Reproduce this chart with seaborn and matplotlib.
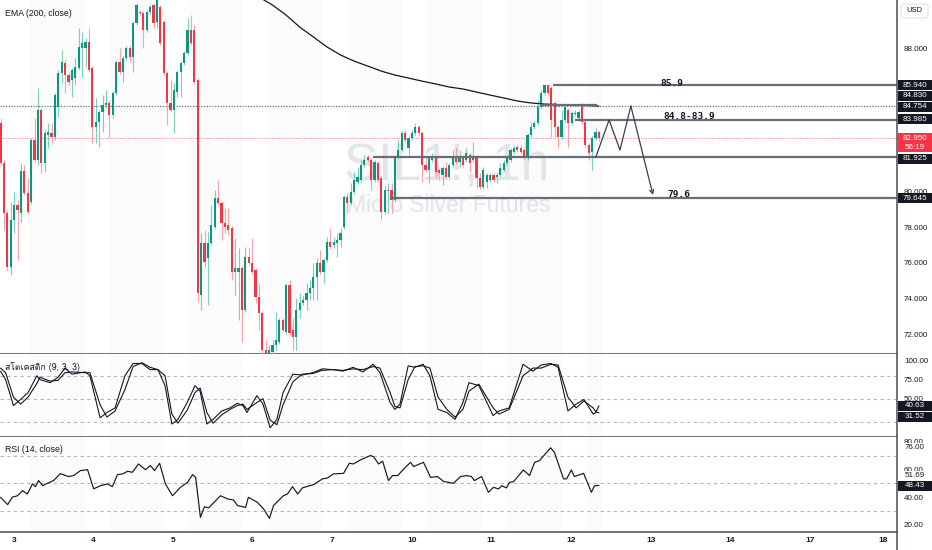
import numpy as np
import matplotlib
matplotlib.use("Agg")
import matplotlib.pyplot as plt
import seaborn as sns
from matplotlib import font_manager as fm
from matplotlib.ft2font import FT2Font
from matplotlib.transforms import blended_transform_factory
from matplotlib.patches import Rectangle, FancyBboxPatch
from matplotlib.lines import Line2D

# ------------------------------------------------------------------ data
candle_open = [83.81,81.57,78.78,75.76,78.39,79.23,78.78,81.13,79.90,79.39,
 82.86,81.74,84.54,81.57,83.14,83.25,83.03,84.70,86.60,87.16,
 86.49,86.21,86.32,86.88,88.00,88.00,88.33,86.88,83.59,83.87,
 84.42,84.81,84.93,84.26,85.48,87.22,86.66,87.44,88.00,87.50,
 89.40,90.01,89.95,89.00,90.01,90.40,89.45,90.29,89.45,86.60,
 84.93,84.54,85.54,86.66,87.16,87.72,89.00,89.00,86.21,74.20,
 77.10,76.27,77.10,78.00,79.62,79.34,78.22,78.11,77.94,75.48,
 75.48,75.71,73.36,76.32,75.99,75.60,74.09,73.19,71.13,70.68,
 71.02,71.41,71.57,72.80,72.13,74.76,72.24,71.85,73.36,73.75,
 73.92,74.31,74.59,75.20,75.99,75.48,76.16,77.16,76.99,77.10,
 77.27,78.00,79.67,79.34,79.95,80.51,80.63,81.46,81.91,81.74,
 80.63,81.57,80.74,78.84,80.01,80.07,79.51,81.91,82.30,83.25,
 82.41,82.97,83.25,83.59,83.25,81.46,81.18,81.74,81.85,81.18,
 80.90,81.29,80.79,81.46,81.91,81.63,81.91,81.74,82.02,81.74,
 81.91,80.74,80.23,80.51,80.63,80.90,80.79,80.90,81.18,81.57,
 81.74,82.19,82.47,82.41,82.30,81.85,83.14,83.59,83.81,84.70,
 85.48,85.93,85.76,84.93,83.59,83.03,83.98,84.54,83.81,84.31,
 84.09,84.81,83.87,82.58,82.19,82.97,83.31]
candle_close = [81.57,78.78,75.76,78.39,79.23,78.95,81.13,79.90,78.84,82.86,
 81.74,84.54,81.57,83.25,83.31,83.03,85.37,86.60,87.22,86.49,
 86.10,86.77,86.94,88.06,88.28,88.33,86.77,83.59,83.87,84.42,
 84.81,84.93,84.26,85.48,87.22,86.66,87.44,88.00,87.50,89.40,
 90.40,89.95,89.00,90.01,90.29,89.40,90.68,88.28,86.60,84.93,
 84.54,85.65,86.66,87.16,87.72,89.00,88.28,86.10,74.31,77.10,
 76.04,77.10,78.11,79.62,79.34,78.22,78.00,77.83,75.48,75.71,
 75.71,73.36,76.32,75.99,75.48,74.09,73.19,71.13,70.68,71.13,
 71.41,71.69,72.80,72.24,74.76,72.08,71.85,73.36,73.75,73.92,
 74.31,74.59,75.20,75.99,75.48,76.16,77.16,76.88,77.16,77.27,
 77.66,79.67,79.34,79.95,80.63,80.79,81.46,81.74,81.74,80.63,
 81.63,80.63,78.84,80.07,80.07,79.51,81.91,82.30,83.25,82.86,
 82.97,83.25,83.59,83.25,81.46,81.18,81.85,81.91,81.07,81.02,
 81.29,80.79,81.46,81.91,81.63,81.91,81.46,82.13,81.57,81.91,
 80.74,80.23,81.18,80.90,80.90,80.63,80.90,81.29,81.57,81.91,
 82.30,82.41,82.30,82.19,81.85,83.14,83.59,83.81,84.70,85.48,
 85.93,85.48,83.98,83.59,83.03,83.98,84.70,83.81,84.37,84.37,
 84.42,83.87,82.58,82.13,82.97,83.31,82.95]
candle_high = [84.09,81.74,78.95,79.39,79.95,79.51,81.57,81.46,80.74,82.97,
 84.09,85.76,84.65,83.42,83.81,83.81,85.48,86.77,87.89,87.33,
 86.66,86.88,87.44,89.12,88.89,88.56,89.12,86.99,85.21,84.54,
 85.37,85.65,85.09,85.60,87.33,88.00,87.55,88.11,88.11,89.51,
 90.51,90.12,90.07,90.12,90.40,90.51,90.96,90.40,89.56,86.71,
 86.21,86.04,86.77,87.27,87.83,89.67,89.84,89.28,86.32,77.66,
 77.83,77.72,79.23,80.07,80.63,79.45,79.06,79.06,78.05,77.38,
 76.82,75.82,76.88,76.82,77.38,75.71,74.87,73.30,71.69,71.41,
 71.69,73.25,72.91,72.91,74.87,75.04,72.91,74.03,74.31,74.20,
 74.87,75.04,75.99,76.27,76.71,76.27,77.44,77.94,77.44,77.66,
 77.94,79.79,79.90,80.46,81.07,81.35,81.74,82.02,82.02,81.85,
 81.74,81.69,80.85,80.34,80.46,80.46,82.02,82.86,83.36,83.42,
 83.08,83.42,83.81,83.70,83.36,82.02,81.96,82.13,81.96,81.29,
 81.41,81.63,81.57,82.30,82.47,82.30,82.02,82.41,82.13,82.75,
 82.02,81.02,81.35,81.02,81.02,81.02,81.07,81.57,81.74,82.02,
 82.41,82.58,82.58,82.58,82.41,83.25,83.87,83.92,85.09,85.65,
 85.94,85.96,85.87,85.04,83.70,84.54,84.93,84.65,84.48,84.54,
 84.54,84.93,83.98,82.69,83.08,83.53,83.42]
candle_low = [81.46,77.83,75.60,75.32,77.66,76.16,78.28,79.79,78.72,79.28,
 81.63,81.46,81.02,81.07,82.41,82.69,82.86,84.15,86.04,85.48,
 85.93,85.26,85.93,86.77,86.38,86.94,86.66,82.69,82.69,82.47,
 83.31,84.65,83.03,84.09,85.37,86.55,86.10,87.33,87.22,86.66,
 89.28,89.84,88.00,88.89,89.90,89.12,89.12,88.17,86.49,83.70,
 84.42,83.25,85.26,85.26,87.05,87.61,88.17,85.99,73.81,73.36,
 75.71,73.64,76.99,77.89,79.23,77.27,77.66,77.55,75.04,74.20,
 72.80,71.57,73.25,75.87,75.37,73.75,72.24,70.57,70.29,70.46,
 70.85,71.13,71.46,72.13,72.02,71.96,71.13,71.13,72.91,73.64,
 73.36,73.92,73.92,73.92,75.37,74.87,76.04,76.77,76.82,76.32,
 76.88,77.89,78.78,79.23,79.84,80.40,80.51,81.35,81.63,80.07,
 80.51,80.51,78.39,78.72,78.78,78.78,79.39,81.80,82.19,82.75,
 82.02,82.86,83.14,83.14,80.51,81.07,80.46,81.63,80.74,80.63,
 80.34,80.68,80.68,81.35,81.52,81.35,81.35,81.63,81.07,81.63,
 80.18,80.12,80.12,80.18,80.51,80.51,80.46,80.79,81.07,81.46,
 81.63,82.08,82.19,82.08,81.74,81.74,83.03,83.47,83.70,84.59,
 85.37,85.37,83.03,83.03,82.41,82.92,83.87,82.47,83.70,84.20,
 83.98,83.75,82.41,81.74,81.18,82.86,82.80]

ema_bar = [72, 76, 80, 84, 88, 92, 96, 100, 104, 108, 112, 116, 120, 124,
           128, 132, 136, 140, 144, 148, 152, 156, 160, 164, 168, 172, 176]
ema_value = [91.30, 90.85, 90.40, 89.84, 89.17, 88.62, 88.06, 87.61, 87.27,
             86.99, 86.71, 86.49, 86.32, 86.15, 85.99, 85.82, 85.71, 85.54,
             85.37, 85.21, 85.04, 84.93, 84.87, 84.84, 84.81, 84.79, 84.76]

stoch_bar = [0,1.5,3.8,5.9,8.1,10.7,11.6,14.6,16.9,19,
 21,24.9,26.3,29.3,31.3,33.7,36.6,39,41.6,44,
 46.3,48.4,50.4,52.2,54.9,57.2,58.7,60.7,62.5,65.1,
 67.5,69.6,71.3,72.5,75.4,77.2,79.3,81.3,83.1,86,
 88.7,91.9,94.6,97.8,100.7,103.7,106.6,109.6,111.6,114.6,
 116,117.5,119.9,121.9,124.3,126.3,128.7,131.3,133.7,136,
 137.8,140.7,144.9,146.6,149.6,153.7,156.6,159,161.9,164,
 166.9,169.3,171.6,174.3,175.1,176]
stoch_k = [86,75,41,49,58,80,75,71,78,90,
 82,85,80,25,32,38,80,96,96,88,
 88,67,17,23,45,67,60,17,23,34,
 38,44,41,32,54,43,12,23,58,82,
 81,84,89,88,86,91,85,95,84,45,
 36,43,93,91,95,80,36,32,23,45,
 71,67,28,34,38,95,86,94,96,91,
 34,43,49,30,32,40.63]
stoch_d = [90,84,52,43,52,70,78,73,74,84,
 85,84,84,42,26,34,62,92,97,91,
 88,80,30,18,35,58,64,32,18,29,
 36,41,43,36,45,50,22,16,42,72,
 82,83,87,88,87,89,88,92,90,58,
 40,38,75,92,93,90,52,36,26,36,
 60,69,38,30,36,80,90,90,95,94,
 52,38,47,38,33,31.52]

rsi_bar = [0,2.1,3.5,5,6.5,7.9,9.4,10.3,11.2,12.4,
 13.8,15.6,17.6,20,21.5,23.5,25.6,27.4,29.4,31.5,
 32.9,34.4,35.9,37.4,38.8,40.6,42.6,44.1,45.3,46.8,
 48.5,50.6,52.9,55,56.5,57.4,58.8,60,61.2,64.7,
 66.8,68.5,69.7,72.1,72.9,75.6,77.4,79.1,80.3,83.2,
 84.4,85.9,87.4,88.8,92.1,94.7,96.2,97.9,100.9,102.6,
 103.8,105.9,108.8,109.7,111.2,112.4,114.1,115.3,116.8,119.1,
 120.6,121.5,124.4,126.5,128.5,130.3,133.2,135.3,137.1,138.5,
 139.4,141.5,143.5,145,146.5,147.4,148.8,149.7,150.9,153.8,
 155.6,157.1,158.5,161.8,162.9,165.6,166.5,167.9,168.8,171.5,
 173.8,174.7,176]
rsi_value = [39.9,34.6,40,41,44.7,42.3,49.6,47.6,52,48.3,
 50,52,57,54.9,55.6,59.2,59.9,46,48.3,49.6,
 47.6,56.3,56.8,58.7,58,64,59.9,62.8,59.2,64.5,
 49.6,41,47.1,50.7,56.3,54.3,25.4,33.1,32.2,41,
 38.7,38,33.9,32.6,39.9,36.2,31.4,24.6,33.9,41,
 42.3,47.6,42.3,46.7,49.1,53.2,53.9,56.8,57.2,64.5,
 64,67,70.1,69.3,64,66,52,55.6,55.6,61.6,
 65.2,62.1,65.2,54.3,54.9,51.4,50,54.9,55.6,54.9,
 52,54.9,43.5,47.1,45.9,48.3,46.7,50.7,51.2,59.7,
 55.6,65.2,66.4,75.7,72.5,53.2,53.2,59.7,54.9,57.2,
 43.5,48.3,48.43]

session_start_bar = [8.7, 32.2, 55.1, 78.7, 102.2, 125.4, 149.0, 172.5]
session_end_bar = [24.9, 48.1, 71.3, 94.9, 118.4, 141.6, 165.1, 176.9]

day_tick_bar = [3.97, 27.2, 50.7, 74.0, 97.5, 121.0, 144.3, 167.8, 191.3, 214.6, 238.1, 259.6]
day_labels = ['3', '4', '5', '6', '7', '10', '11', '12', '13', '14', '17', '18']

level_value = [85.94, 84.83, 83.985, 81.925, 79.645]
level_from_bar = [162.5, 158.6, 169.0, 109.6, 114.6]
level_to_bar = [None, 175.5, None, None, None]

ema_last = 84.754
last_price = 82.95

path_bar = [175.1, 179.0, 182.2, 185.4, 191.9]
path_price = [81.91, 83.98, 82.30, 84.76, 79.79]

note_text = ['85.9', '84.8-83.9', '79.6']
note_bar = [194.0, 194.9, 196.0]
note_price = [86.0, 84.15, 79.80]

price_ticks = [72, 74, 76, 78, 80, 88]
price_box_text = ['85.940', '84.830', '84.754', '83.985', '81.925', '79.645']
price_box_at = [85.93, 85.32, 84.72, 84.02, 81.80, 79.60]

stoch_ticks = [50, 75, 100]
stoch_bands = [80, 50, 20]
stoch_box_text = ['40.63', '31.52']
stoch_box_at = [40.5, 26.5]

rsi_ticks = [20, 40, 60, 80]
rsi_bands = [70, 50, 30]
rsi_box_text = ['48.43']
rsi_box_at = [48.1]
rsi_plain_text = ['76.00', '51.69']
rsi_plain_at = [75.8, 56.0]

# ------------------------------------------------------------------ style
sns.set_theme(style="white")
plt.rcParams['font.family'] = ['Liberation Sans', 'DejaVu Sans']

TEXT = '#131722'
GREEN = '#089981'
RED = '#f23645'
SEP = '#4a4d57'
LEVEL = '#6a6d78'
BAND = '#fbfbfb'

installed = {f.name for f in fm.fontManager.ttflist}
thai_family = None
for f in fm.fontManager.ttflist:
    try:
        if 0x0E2A in FT2Font(f.fname).get_charmap():
            thai_family = f.name
            break
    except Exception:
        pass

W, H = 932, 550
AXR = 897
XMIN, XMAX = -0.5 / 3.4, (AXR - 0.5) / 3.4

fig = plt.figure(figsize=(W / 100, H / 100), dpi=100, facecolor='white')


def panel(top, bottom):
    ax = fig.add_axes([0, 1 - bottom / H, AXR / W, (bottom - top) / H])
    ax.set_facecolor('white')
    for s in ['top', 'left', 'right']:
        ax.spines[s].set_visible(False)
    ax.spines['bottom'].set_color(SEP)
    ax.spines['bottom'].set_linewidth(1.1)
    ax.set_xlim(XMIN, XMAX)
    ax.yaxis.tick_right()
    ax.tick_params(axis='y', length=0, pad=5, labelsize=5.8, labelcolor=TEXT)
    ax.tick_params(axis='x', length=0)
    ax.grid(False)
    for s0, s1 in zip(session_start_bar, session_end_bar):
        ax.axvspan(s0, s1, color=BAND, lw=0, zorder=0)
    return ax


axp = panel(0, 354)
axs = panel(354, 437)
axr = panel(437, 532)


def box(ax, at, text, h, fc=TEXT, tc='white'):
    tr = blended_transform_factory(ax.transAxes, ax.transData)
    ax.add_patch(Rectangle((898 / AXR, at - h / 2), 34 / AXR, h, transform=tr,
                           clip_on=False, fc=fc, ec='none', zorder=20))
    ax.text(915 / AXR, at, text, transform=tr, ha='center', va='center',
            fontsize=5.8, color=tc, zorder=21, clip_on=False)


# ------------------------------------------------------------------ price panel
axp.set_ylim(70.905, 90.682)
o = np.array(candle_open); c = np.array(candle_close)
hi = np.array(candle_high); lo = np.array(candle_low)
idx = np.arange(len(o))
up = c >= o
axp.vlines(idx, lo, hi, colors=np.where(up, '#7fcdc0', '#f7a3aa'), linewidth=0.8, zorder=3)
axp.bar(idx, np.maximum(np.abs(c - o), 0.05), bottom=np.minimum(o, c), width=0.62,
        color=np.where(up, GREEN, RED), linewidth=0, zorder=4)

wm_family = ['Liberation Sans Narrow', 'Liberation Sans'] if 'Liberation Sans Narrow' in installed else ['Liberation Sans']
wm_size = 45 if 'Liberation Sans Narrow' in installed else 37
axp.text(131.3, 80.63, 'SIL1!, 1h', ha='center', va='baseline', fontsize=wm_size,
         family=wm_family, color='#e2e4e9', zorder=1)
axp.text(131.9, 78.84, 'Micro Silver Futures', ha='center', va='baseline', fontsize=16.5,
         color='#e2e4e9', zorder=1)

axp.axhline(ema_last, color=LEVEL, linestyle=(0, (1, 1.2)), linewidth=0.9, zorder=2)
axp.axhline(last_price, color=RED, linestyle=(0, (1, 1.2)), linewidth=0.8, alpha=0.55, zorder=2)

sns.lineplot(x=ema_bar, y=ema_value, ax=axp, color=TEXT, linewidth=0.9, zorder=5,
             legend=False, sort=False)

for v, s, e in zip(level_value, level_from_bar, level_to_bar):
    axp.hlines(v, s, XMAX if e is None else e, color=LEVEL, linewidth=1.6, zorder=6)

sns.lineplot(x=path_bar[:-1], y=path_price[:-1], ax=axp, color='#3b3e48', linewidth=0.9,
             zorder=7, legend=False, sort=False)
axp.annotate('', xy=(path_bar[-1], path_price[-1]), xytext=(path_bar[-2], path_price[-2]),
             arrowprops=dict(arrowstyle='->', lw=0.9, color='#3b3e48', shrinkA=0, shrinkB=0,
                             mutation_scale=7), zorder=7)

for t, xb, yp in zip(note_text, note_bar, note_price):
    axp.text(xb, yp, t, ha='left', va='center', fontsize=6.8, family='DejaVu Sans Mono',
             fontweight='bold', color=TEXT, zorder=8)

axp.set_yticks(price_ticks)
axp.set_yticklabels([f'{v:.3f}' for v in price_ticks])
axp.set_xticks([])
for t, at in zip(price_box_text, price_box_at):
    box(axp, at, t, 0.56)
# current price box (two lines)
trp = blended_transform_factory(axp.transAxes, axp.transData)
axp.add_patch(Rectangle((898 / AXR, 82.19), 34 / AXR, 1.06, transform=trp, clip_on=False,
                        fc=RED, ec='none', zorder=20))
axp.text(915 / AXR, 82.96, '82.950', transform=trp, ha='center', va='center', fontsize=5.8,
         color='white', zorder=21)
axp.text(915 / AXR, 82.45, '56:19', transform=trp, ha='center', va='center', fontsize=5.8,
         color='white', zorder=21)
# currency box
fig.add_artist(FancyBboxPatch((901 / W, 1 - 18 / H), 27 / W, 14 / H,
                              boxstyle='round,pad=0,rounding_size=0.004',
                              transform=fig.transFigure, fc='white', ec='#e0e3eb', lw=0.8))
fig.text(914.5 / W, 1 - 11 / H, 'USD', ha='center', va='center', fontsize=5.5, color=TEXT)

axp.text(5 / AXR, 1 - 13 / 354, 'EMA (200, close)', transform=axp.transAxes, ha='left',
         va='center', fontsize=6.3, color=TEXT)

# ------------------------------------------------------------------ stochastic panel
axs.set_ylim(0, 108.4)
for b in stoch_bands:
    axs.axhline(b, color='#b2b5be', linestyle=(0, (3, 3)), linewidth=0.8, zorder=1)
sns.lineplot(x=stoch_bar, y=stoch_d, ax=axs, color=TEXT, linewidth=0.8, legend=False, sort=False)
sns.lineplot(x=stoch_bar, y=stoch_k, ax=axs, color=TEXT, linewidth=0.8, legend=False, sort=False)
axs.set_yticks(stoch_ticks)
axs.set_yticklabels([f'{v:.2f}' for v in stoch_ticks])
axs.set_xticks([])
axs.set_ylabel('')
for t, at in zip(stoch_box_text, stoch_box_at):
    box(axs, at, t, 13.0)
stoch_fam = [thai_family, 'Liberation Sans', 'DejaVu Sans'] if thai_family else ['Liberation Sans', 'DejaVu Sans']
axs.text(5 / AXR, 1 - 13 / 83, 'สโตเคสติก (9, 3, 3)', transform=axs.transAxes, ha='left',
         va='center', fontsize=6.3, color=TEXT, family=stoch_fam)

# ------------------------------------------------------------------ RSI panel
axr.set_ylim(14.8, 83.5)
for b in rsi_bands:
    axr.axhline(b, color='#b2b5be', linestyle=(0, (3, 3)), linewidth=0.8, zorder=1)
sns.lineplot(x=rsi_bar, y=rsi_value, ax=axr, color=TEXT, linewidth=0.85, legend=False, sort=False)
axr.set_yticks(rsi_ticks)
axr.set_yticklabels([f'{v:.2f}' for v in rsi_ticks])
axr.set_ylabel('')
trr = blended_transform_factory(axr.transAxes, axr.transData)
for t, at in zip(rsi_plain_text, rsi_plain_at):
    axr.text(915 / AXR, at, t, transform=trr, ha='center', va='center', fontsize=5.8,
             color=TEXT, zorder=21, bbox=dict(boxstyle='square,pad=0.1', fc='white', ec='none'))
for t, at in zip(rsi_box_text, rsi_box_at):
    box(axr, at, t, 7.2)
axr.text(5 / AXR, 1 - 13 / 95, 'RSI (14, close)', transform=axr.transAxes, ha='left',
         va='center', fontsize=6.3, color=TEXT)

axr.set_xticks(day_tick_bar)
axr.set_xticklabels(day_labels)
axr.tick_params(axis='x', length=0, pad=3.5, labelsize=6, labelcolor=TEXT)
for lab in axr.get_xticklabels():
    lab.set_fontweight('bold')

for a in (axp, axs, axr):
    a.set_xlabel('')
    a.set_xlim(XMIN, XMAX)

fig.add_artist(Line2D([AXR / W, AXR / W], [0, 1], transform=fig.transFigure, color=SEP, lw=1.1))

fig.savefig('out.png', dpi=100, facecolor='white')
